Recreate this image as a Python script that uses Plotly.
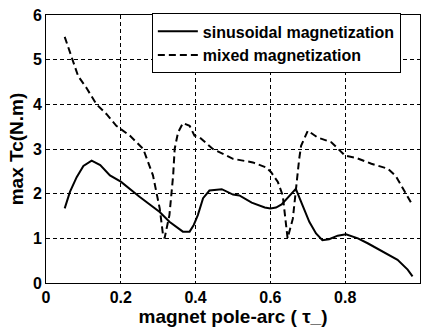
import plotly.graph_objects as go

# Pole-arc ratio and peak cogging torque for the two magnetization patterns
sin_arc = [0.05, 0.064, 0.082, 0.1, 0.122, 0.145, 0.171, 0.2, 0.25, 0.304, 0.33, 0.366,
           0.384, 0.395, 0.406, 0.42, 0.437, 0.47, 0.5, 0.517, 0.55, 0.585, 0.6, 0.615,
           0.63, 0.65, 0.668, 0.686, 0.704, 0.722, 0.739, 0.757, 0.78, 0.802, 0.834,
           0.86, 0.914, 0.94, 0.967, 0.98]
sin_tc = [1.67, 2.04, 2.37, 2.62, 2.74, 2.64, 2.41, 2.27, 1.93, 1.59, 1.37, 1.15,
          1.15, 1.3, 1.52, 1.9, 2.07, 2.1, 1.98, 1.96, 1.8, 1.69, 1.67, 1.69,
          1.76, 1.95, 2.11, 1.74, 1.37, 1.11, 0.96, 0.98, 1.06, 1.09, 1.0,
          0.89, 0.63, 0.52, 0.3, 0.15]

mix_arc = [0.05, 0.07, 0.086, 0.108, 0.135, 0.162, 0.188, 0.224, 0.26, 0.286, 0.304,
           0.313, 0.317, 0.33, 0.34, 0.344, 0.353, 0.366, 0.384, 0.397, 0.411, 0.446,
           0.5, 0.553, 0.588, 0.602, 0.62, 0.633, 0.646, 0.66, 0.668, 0.677, 0.682,
           0.70, 0.726, 0.763, 0.8, 0.83, 0.87, 0.914, 0.935, 0.95, 0.965, 0.98]
mix_tc = [5.51, 5.0, 4.63, 4.37, 4.0, 3.78, 3.52, 3.3, 3.0, 2.41, 1.67,
          1.07, 1.0, 1.52, 2.41, 3.0, 3.37, 3.58, 3.52, 3.3, 3.26, 3.0,
          2.78, 2.7, 2.59, 2.48, 2.26, 1.96, 1.0, 1.44, 2.11, 2.78, 3.07,
          3.41, 3.26, 3.15, 2.85, 2.8, 2.67, 2.56, 2.4, 2.18, 1.95, 1.74]

x_ticks = [0, 0.2, 0.4, 0.6, 0.8, 1]
x_tick_text = ["0", "0.2", "0.4", "0.6", "0.8", "1"]
y_ticks = [0, 1, 2, 3, 4, 5, 6]
y_tick_text = ["0", "1", "2", "3", "4", "5", "6"]

FONT = "Liberation Sans"


def bold(s):
    return "<b>" + s + "</b>"


fig = go.Figure()
fig.add_trace(go.Scatter(
    x=sin_arc, y=sin_tc, mode="lines", name=bold("sinusoidal magnetization"),
    line=dict(color="black", width=2),
))
fig.add_trace(go.Scatter(
    x=mix_arc, y=mix_tc, mode="lines", name=bold("mixed magnetization"),
    line=dict(color="black", width=2, dash="7px,4px"),
))

axis_common = dict(
    showline=True, mirror=True, linecolor="black", linewidth=1,
    showgrid=True, gridcolor="black", gridwidth=1, griddash="4px,3px",
    zeroline=False, ticks="",
    tickfont=dict(family=FONT, size=16, color="black"),
)

fig.update_layout(
    width=424, height=327,
    margin=dict(l=46, r=3, t=15, b=42),
    paper_bgcolor="white", plot_bgcolor="white",
    showlegend=True,
    legend=dict(
        x=0.283, y=1.006, xanchor="left", yanchor="top",
        bgcolor="white", bordercolor="black", borderwidth=1,
        font=dict(family=FONT, size=16, color="black"),
        tracegroupgap=0, itemwidth=40,
    ),
    xaxis=dict(
        range=[0, 1], tickvals=x_ticks, ticktext=[bold(t) for t in x_tick_text],
        title=dict(text=bold("magnet pole-arc ( τ_)"), standoff=4,
                   font=dict(family=FONT, size=19, color="black")),
        **axis_common,
    ),
    yaxis=dict(
        range=[0, 6], tickvals=y_ticks, ticktext=[bold(t) for t in y_tick_text],
        title=dict(text=bold("max Tc(N.m)"), standoff=4,
                   font=dict(family=FONT, size=19, color="black")),
        **axis_common,
    ),
)

fig.write_html("out.html")
